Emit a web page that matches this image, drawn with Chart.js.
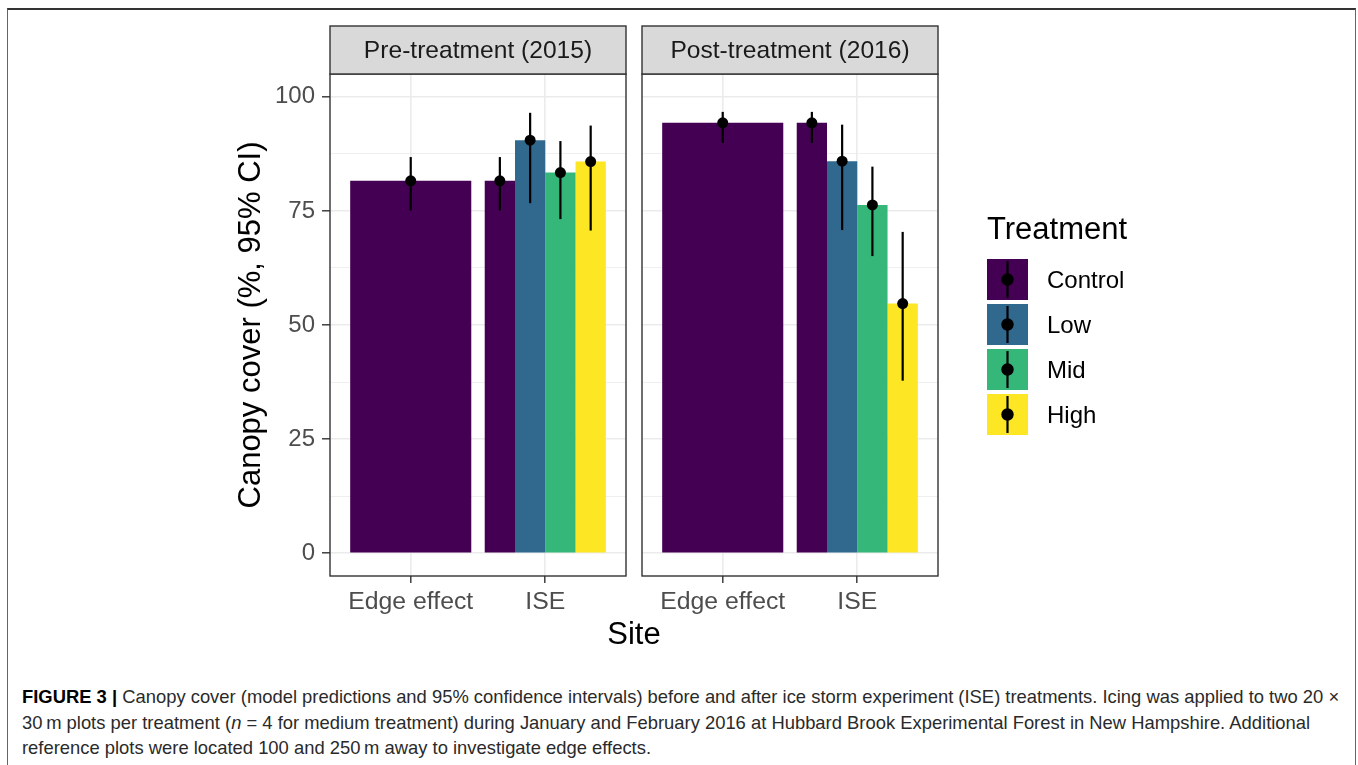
<!DOCTYPE html>
<html><head><meta charset="utf-8">
<script src="https://cdn.jsdelivr.net/npm/chart.js@4.4.1/dist/chart.umd.min.js"></script>
<style>
html,body{margin:0;padding:0;background:#fff;width:1358px;height:765px;overflow:hidden;font-family:"Liberation Sans",Arial,sans-serif;}
#frame{position:absolute;left:7px;top:8px;width:1347px;height:800px;border:1px solid #666;border-top:2px solid #333;box-sizing:content-box;}
canvas{position:absolute;top:0;}
#c1{left:0;}
#c2{left:630px;}
#site{position:absolute;left:0;width:1268px;top:614px;text-align:center;font-size:31px;line-height:40px;color:#000;}
#caption{position:absolute;left:22px;top:684px;font-size:18.4px;line-height:25.5px;color:#2a2a2a;white-space:nowrap;}
#caption b{color:#000;}
</style></head>
<body>
<div id="frame"></div>
<canvas id="c1" width="640" height="680"></canvas>
<canvas id="c2" width="728" height="680"></canvas>
<div id="site">Site</div>
<div id="caption"><b>FIGURE 3 |</b> Canopy cover (model predictions and 95% confidence intervals) before and after ice storm experiment (ISE) treatments. Icing was applied to two 20 &times;<br>30&thinsp;m plots per treatment (<i>n</i> = 4 for medium treatment) during January and February 2016 at Hubbard Brook Experimental Forest in New Hampshire. Additional<br>reference plots were located 100 and 250&thinsp;m away to investigate edge effects.</div>
<script>
// ---- data ----
const categories = ['Edge effect', 'ISE'];
const categoryX = [1, 2];
const treatments = ['Control', 'Low', 'Mid', 'High'];
const colors = ['#440154', '#31688E', '#35B779', '#FDE725'];
const yTicks = [0, 12.5, 25, 37.5, 50, 62.5, 75, 87.5, 100];
const panelTitles = ['Pre-treatment (2015)', 'Post-treatment (2016)'];

// Pre-treatment (2015): [Edge effect, ISE]
const preControl = [81.6, 81.6];
const preLow = [null, 90.5];
const preMid = [null, 83.4];
const preHigh = [null, 85.8];
const preLower = [[75.1, 75.1], [null, 76.7], [null, 73.2], [null, 70.7]];
const preUpper = [[86.8, 86.8], [null, 96.5], [null, 90.3], [null, 93.7]];

// Post-treatment (2016)
const postControl = [94.3, 94.3];
const postLow = [null, 85.9];
const postMid = [null, 76.3];
const postHigh = [null, 54.7];
const postLower = [[89.9, 89.9], [null, 70.8], [null, 65.1], [null, 37.8]];
const postUpper = [[96.7, 96.7], [null, 93.9], [null, 84.7], [null, 70.4]];

const FONT = '"Liberation Sans", Arial, sans-serif';

function buildDatasets(series) {
  return series.map((vals, i) => ({
    label: treatments[i],
    data: vals.map((v, j) => ({ x: categoryX[j], y: v })),
    backgroundColor: colors[i],
    borderWidth: 0,
    skipNull: true,
    categoryPercentage: 0.9,
    barPercentage: 1.0
  }));
}

const stripAndErrors = {
  id: 'stripAndErrors',
  afterDatasetsDraw(chart, args, opts) {
    const ctx = chart.ctx;
    const y = chart.scales.y;
    ctx.save();
    chart.data.datasets.forEach((ds, i) => {
      const meta = chart.getDatasetMeta(i);
      meta.data.forEach((el, j) => {
        const v = ds.data[j].y;
        if (v === null) return;
        const lo = opts.lower[i][j], hi = opts.upper[i][j];
        ctx.strokeStyle = '#000';
        ctx.lineWidth = 2.2;
        ctx.beginPath();
        ctx.moveTo(el.x, y.getPixelForValue(lo));
        ctx.lineTo(el.x, y.getPixelForValue(hi));
        ctx.stroke();
        ctx.fillStyle = '#000';
        ctx.beginPath();
        ctx.arc(el.x, y.getPixelForValue(v), 5.5, 0, Math.PI * 2);
        ctx.fill();
      });
    });
    ctx.restore();
  },
  afterDraw(chart, args, opts) {
    const ctx = chart.ctx;
    const a = chart.chartArea;
    ctx.save();
    // panel border
    ctx.strokeStyle = '#333';
    ctx.lineWidth = 1.4;
    ctx.strokeRect(a.left, a.top, a.right - a.left, a.bottom - a.top);
    // strip
    ctx.fillStyle = '#D9D9D9';
    ctx.fillRect(a.left, 26, a.right - a.left, a.top - 26);
    ctx.strokeRect(a.left, 26, a.right - a.left, a.top - 26);
    ctx.fillStyle = '#1A1A1A';
    ctx.font = '24.6px ' + FONT;
    ctx.textAlign = 'center';
    ctx.textBaseline = 'middle';
    ctx.fillText(opts.title, (a.left + a.right) / 2, 51);
    // legend
    if (opts.legendX !== undefined) {
      const lx = opts.legendX;
      ctx.textAlign = 'left';
      ctx.textBaseline = 'alphabetic';
      ctx.fillStyle = '#000';
      ctx.font = '31px ' + FONT;
      ctx.fillText('Treatment', lx, 239);
      treatments.forEach((t, i) => {
        const ky = 259 + i * 45;
        ctx.fillStyle = colors[i];
        ctx.fillRect(lx, ky, 41, 41);
        ctx.strokeStyle = '#000';
        ctx.lineWidth = 2.2;
        ctx.beginPath();
        ctx.moveTo(lx + 20.5, ky + 2);
        ctx.lineTo(lx + 20.5, ky + 39);
        ctx.stroke();
        ctx.fillStyle = '#000';
        ctx.beginPath();
        ctx.arc(lx + 20.5, ky + 20.5, 6.2, 0, Math.PI * 2);
        ctx.fill();
        ctx.font = '24px ' + FONT;
        ctx.textBaseline = 'middle';
        ctx.fillText(t, lx + 60, ky + 22);
        ctx.textBaseline = 'alphabetic';
      });
    }
    ctx.restore();
  }
};

function makeChart(id, series, lower, upper, title, isLeft) {
  return new Chart(document.getElementById(id), {
    type: 'bar',
    data: { datasets: buildDatasets(series) },
    plugins: [stripAndErrors],
    options: {
      responsive: false,
      animation: false,
      devicePixelRatio: 1,
      layout: { padding: isLeft ? { left: 230, right: 14, top: 74, bottom: 0 } : { left: 12, right: 420, top: 74, bottom: 0 } },
      plugins: {
        legend: { display: false },
        tooltip: { enabled: false },
        stripAndErrors: isLeft ? { lower, upper, title } : { lower, upper, title, legendX: 357 }
      },
      scales: {
        x: {
          type: 'linear',
          offset: false,
          min: 0.4, max: 2.6,
          afterBuildTicks: s => { s.ticks = categoryX.map(v => ({ value: v })); },
          afterFit: s => { s.height = 104; },
          border: { display: false },
          grid: { offset: false, color: '#EBEBEB', lineWidth: 1.6, tickColor: '#333', tickLength: 7, tickWidth: 1.4 },
          ticks: {
            autoSkip: false, maxRotation: 0, padding: 4,
            color: '#4D4D4D', font: { family: FONT, size: 24.8 },
            callback: v => categories[categoryX.indexOf(v)]
          }
        },
        y: {
          min: -5, max: 105,
          afterBuildTicks: s => { s.ticks = yTicks.map(v => ({ value: v })); },
          afterFit: s => { s.width = isLeft ? 100 : 0; },
          border: { display: false },
          grid: {
            color: '#EBEBEB',
            lineWidth: c => (c.tick && c.tick.value % 25 === 0) ? 1.6 : 0.8,
            tickColor: c => (c.tick && c.tick.value % 25 === 0) ? '#333' : 'rgba(0,0,0,0)',
            tickLength: 8, tickWidth: 1.4,
            drawTicks: isLeft
          },
          ticks: {
            display: isLeft, padding: 7,
            color: '#4D4D4D', font: { family: FONT, size: 24 },
            callback: v => (v % 25 === 0 ? String(v) : '')
          },
          title: {
            display: isLeft, text: 'Canopy cover (%, 95% CI)',
            color: '#000', font: { family: FONT, size: 31 }, padding: { top: 3, bottom: 0 }
          }
        }
      }
    }
  });
}

makeChart('c1', [preControl, preLow, preMid, preHigh], preLower, preUpper, panelTitles[0], true);
makeChart('c2', [postControl, postLow, postMid, postHigh], postLower, postUpper, panelTitles[1], false);
</script>
</body></html>
